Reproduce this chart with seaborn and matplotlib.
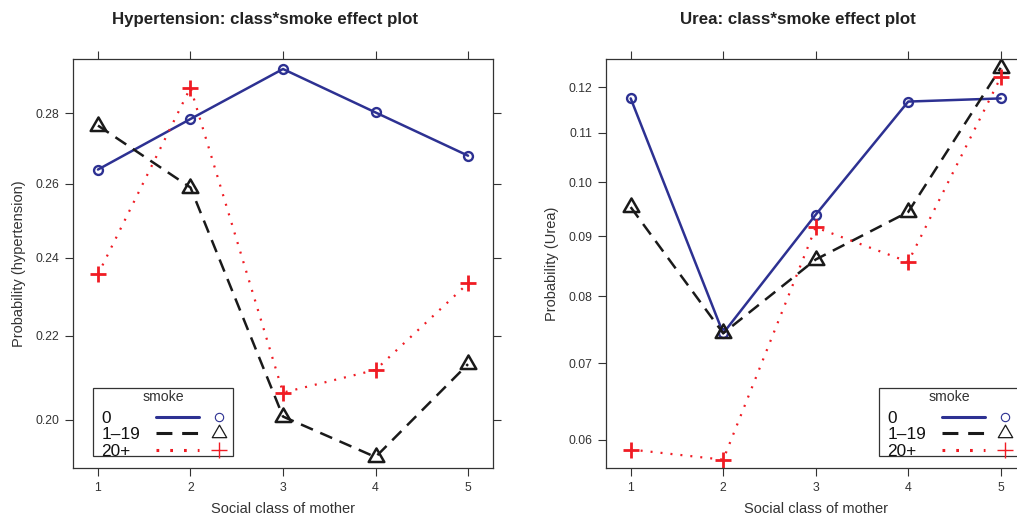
import matplotlib
matplotlib.use("Agg")
import matplotlib.pyplot as plt
import seaborn as sns
from matplotlib.lines import Line2D
from matplotlib.text import Text
from matplotlib.path import Path
from matplotlib.legend_handler import HandlerBase
from matplotlib.ticker import NullLocator

# valores (escala logit en el eje y)
CLASES = [1, 2, 3, 4, 5]
SMOKE = ["0", "1\u201319", "20+"]

HIPER_0 = [0.2639, 0.2783, 0.2930, 0.2802, 0.2678]
HIPER_1_19 = [0.2764, 0.2589, 0.2007, 0.1915, 0.2131]
HIPER_20 = [0.2356, 0.2875, 0.2063, 0.2117, 0.2333]

UREA_0 = [0.1175, 0.0743, 0.0939, 0.1168, 0.1175]
UREA_1_19 = [0.0953, 0.0743, 0.0860, 0.0944, 0.1245]
UREA_20 = [0.0588, 0.0576, 0.0916, 0.0856, 0.1223]

HIPER_TICKS = [0.20, 0.22, 0.24, 0.26, 0.28]
UREA_TICKS = [0.06, 0.07, 0.08, 0.09, 0.10, 0.11, 0.12]

AZUL = "#2d3192"
NEGRO = "#1a1a1a"
ROJO = "#f01c24"
GRIS = "#333333"
TAM_LEYENDA = 12.4

TRIANGULO = Path(
    [(-1.0, -0.577), (1.0, -0.577), (0.0, 1.155), (-1.0, -0.577)],
    [Path.MOVETO, Path.LINETO, Path.LINETO, Path.CLOSEPOLY],
)

ESTILOS = [
    dict(color=AZUL, linestyle="-", lw=1.8, marker="o", ms=6.4, mew=1.7),
    dict(color=NEGRO, linestyle=(0, (5.2, 3.2)), lw=1.8, marker=TRIANGULO, ms=13, mew=1.8),
    dict(color=ROJO, linestyle=(0, (0.9, 3.6)), lw=1.6, marker="+", ms=11, mew=2.0),
]
ESTILOS_LEYENDA = [
    dict(marker="o", ms=6.0, mew=0.8),
    dict(marker=TRIANGULO, ms=12, mew=0.9),
    dict(marker="+", ms=11, mew=1.0),
]


class FilaLattice(HandlerBase):
    # texto a la izquierda, luego la linea y el marcador aparte, como en lattice
    def create_artists(self, legend, orig_handle, xdescent, ydescent,
                       width, height, fontsize, trans):
        etiqueta, linea, marca = orig_handle
        x0 = -xdescent
        y = height / 2 - ydescent - 4
        txt = Text(x0 + 0.043 * width, y, etiqueta, fontsize=fontsize,
                   color="#111111", ha="left", va="center_baseline")
        ln = Line2D([x0 + 0.446 * width, x0 + 0.765 * width], [y, y])
        ln.update_from(linea)
        mk = Line2D([x0 + 0.913 * width], [y])
        mk.update_from(marca)
        for a in (txt, ln, mk):
            a.set_transform(trans)
        return [txt, ln, mk]


def graficar_panel(ax, series, ticks, ylim, titulo, ylabel, pos_leyenda):
    for valores, est in zip(series, ESTILOS):
        sns.lineplot(
            x=CLASES, y=valores, ax=ax, errorbar=None,
            color=est["color"], linestyle=est["linestyle"], linewidth=est["lw"],
            marker=est["marker"], markersize=est["ms"],
            markeredgewidth=est["mew"], markeredgecolor=est["color"],
            markerfacecolor="none",
        )

    ax.set_yscale("logit")
    ax.set_ylim(*ylim)
    ax.set_yticks(ticks)
    ax.set_yticklabels([f"{t:.2f}" for t in ticks])
    ax.yaxis.set_minor_locator(NullLocator())
    ax.set_xlim(0.73, 5.27)
    ax.set_xticks(CLASES)
    ax.set_xticklabels([str(c) for c in CLASES])

    ax.tick_params(axis="both", which="major", direction="out", length=5.8,
                   width=0.8, color=GRIS, labelsize=8.8, labelcolor=GRIS,
                   top=True, right=True, labeltop=False, labelright=False, pad=4)
    for sp in ax.spines.values():
        sp.set_visible(True)
        sp.set_color(GRIS)
        sp.set_linewidth(0.9)

    ax.set_title(titulo, x=0.458, y=1.0, pad=25.5, fontsize=12.2,
                 fontweight="bold", color="#222222")
    ax.set_xlabel("Social class of mother", fontsize=10.5, color=GRIS)
    ax.set_ylabel(ylabel, fontsize=10.5, color=GRIS)
    ax.xaxis.set_label_coords(0.5, -0.082)
    ax.yaxis.set_label_coords(-0.112, 0.5)

    handles = []
    for etiqueta, est, ley in zip(SMOKE, ESTILOS, ESTILOS_LEYENDA):
        linea = Line2D([], [], color=est["color"], linestyle=est["linestyle"],
                       linewidth=2.2)
        marca = Line2D([], [], linestyle="none", marker=ley["marker"],
                       markersize=ley["ms"], markeredgewidth=ley["mew"],
                       markeredgecolor=est["color"], markerfacecolor="none")
        handles.append((etiqueta, linea, marca))

    leg = ax.legend(
        handles, [""] * len(handles), handler_map={tuple: FilaLattice()},
        title="smoke", title_fontsize=10.2, fontsize=TAM_LEYENDA,
        handlelength=7.84, handleheight=0.42, handletextpad=0.0,
        borderpad=0.15, labelspacing=0.08, loc="lower left",
        bbox_to_anchor=pos_leyenda, borderaxespad=0,
        frameon=True, fancybox=False, framealpha=1,
    )
    leg.get_frame().set_edgecolor(GRIS)
    leg.get_frame().set_linewidth(0.9)
    leg.get_title().set_color(GRIS)


def main():
    sns.set_style("ticks")
    plt.rcParams["font.family"] = ["Liberation Sans", "DejaVu Sans"]

    fig = plt.figure(figsize=(10.17, 5.19), dpi=100)
    ax1 = fig.add_axes([0.07178, 0.09769, 0.41298, 0.78863])
    ax2 = fig.add_axes([0.59558, 0.09769, 0.41298, 0.78863])

    graficar_panel(ax1, [HIPER_0, HIPER_1_19, HIPER_20], HIPER_TICKS,
                   (0.189, 0.296), "Hypertension: class*smoke effect plot",
                   "Probability (hypertension)", (0.0476, 0.030))
    graficar_panel(ax2, [UREA_0, UREA_1_19, UREA_20], UREA_TICKS,
                   (0.0566, 0.1266), "Urea: class*smoke effect plot",
                   "Probability (Urea)", (0.6507, 0.030))

    fig.savefig("out.png", dpi=100)
    plt.close(fig)


if __name__ == "__main__":
    main()
